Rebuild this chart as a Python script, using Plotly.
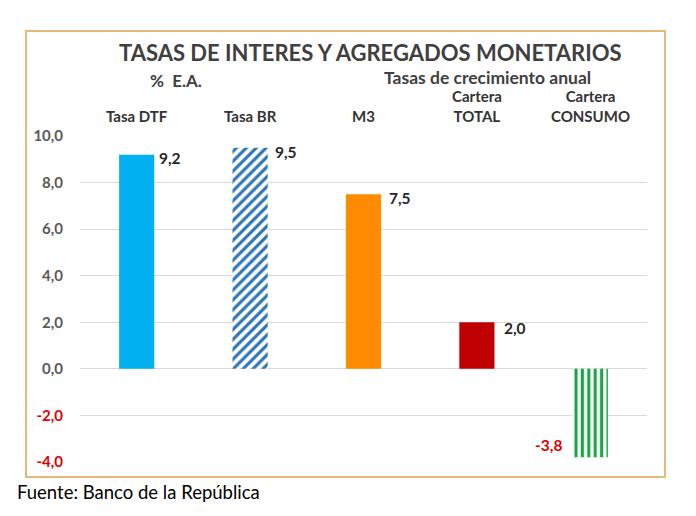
import plotly.graph_objects as go

categories = ["Tasa DTF", "Tasa BR", "M3", "Cartera<br>TOTAL", "Cartera<br>CONSUMO"]
values = [9.2, 9.5, 7.5, 2.0, -3.8]
value_labels = ["9,2", "9,5", "7,5", "2,0", "-3,8"]
tick_vals = [-4, -2, 0, 2, 4, 6, 8, 10]
tick_labels = ["-4,0", "-2,0", "0,0", "2,0", "4,0", "6,0", "8,0", "10,0"]

bar_colors = ["#00B0F0", "#2E75B6", "#FF8C00", "#C00000", "#1FA24A"]
pattern_shapes = ["", "/", "", "", "|"]

# page offset (browser body margin)
OFF = 8
W, H = 696 - OFF, 516 - OFF
# target pixel positions in the screenshot
PL, PR, PT, PB = 80, 647, 136, 462
L, T = PL - OFF, PT - OFF
R = W - (PR - OFF)
B = H - (PB - OFF)
PW, PH = W - L - R, H - T - B

def px(x):
    return (x - OFF - L) / PW

def py(y):
    return (H - B - (y - OFF)) / PH

FONT = "Lato"

fig = go.Figure()
for c, v, col, shp in zip(categories, values, bar_colors, pattern_shapes):
    if shp:
        marker = dict(color="#FFFFFF", line=dict(width=0),
                      pattern=dict(shape=shp, fgcolor=col, bgcolor="#FFFFFF",
                                   size=7 if shp == "/" else 6.4,
                                   solidity=0.45 if shp == "/" else 0.5,
                                   fillmode="replace"))
    else:
        marker = dict(color=col, line=dict(width=0))
    fig.add_trace(go.Bar(x=[c], y=[v], width=0.31, marker=marker, hoverinfo="skip"))

ticktext = []
for v, t in zip(tick_vals, tick_labels):
    if v < 0:
        ticktext.append(f"<span style='color:#E00000'><b>{t}</b></span>")
    else:
        ticktext.append(f"<b>{t}</b>")

fig.update_layout(
    width=W, height=H,
    margin=dict(l=L, r=R, t=T, b=B),
    paper_bgcolor="white", plot_bgcolor="white",
    showlegend=False, barmode="overlay",
    font=dict(family=FONT, color="#262626"),
    xaxis=dict(showticklabels=False, showgrid=False, zeroline=False, showline=False,
               range=[-0.5, 4.5], categoryorder="array", categoryarray=categories),
    yaxis=dict(range=[-4, 10], tickvals=tick_vals, ticktext=ticktext,
               tickfont=dict(size=15, color="#595959", family=FONT),
               showgrid=True, gridcolor="#D9D9D9", gridwidth=1, zeroline=False,
               showline=False, ticks="", ticklabelstandoff=16),
)

# frame
fig.add_shape(type="rect", xref="paper", yref="paper",
              x0=px(26), x1=px(665), y0=py(477), y1=py(31),
              line=dict(color="#E9B97A", width=2), fillcolor="rgba(0,0,0,0)", layer="below")

# title and subtitles
fig.add_annotation(xref="paper", yref="paper", x=px(370), y=py(53), text="<b>TASAS DE INTERES Y AGREGADOS MONETARIOS</b>",
                   showarrow=False, font=dict(size=22, color="#404040", family=FONT), xanchor="center", yanchor="middle")
fig.add_annotation(xref="paper", yref="paper", x=px(176), y=py(80), text="<b>%  E.A.</b>",
                   showarrow=False, font=dict(size=17, color="#404040", family=FONT), xanchor="center", yanchor="middle")
fig.add_annotation(xref="paper", yref="paper", x=px(487), y=py(78), text="<b>Tasas de crecimiento anual</b>",
                   showarrow=False, font=dict(size=17.5, color="#404040", family=FONT), xanchor="center", yanchor="middle")

# category labels on top
for c in categories:
    fig.add_annotation(x=c, xref="x", yref="paper", y=py(127), text=f"<b>{c}</b>",
                       showarrow=False, font=dict(size=15, color="#333333", family=FONT),
                       xanchor="center", yanchor="bottom")

# value labels
label_shift = [(20, -3), (23, -4), (23, -4), (25, -6), (-26, 12)]
for c, v, t, (dx, dy) in zip(categories, values, value_labels, label_shift):
    color = "#E00000" if v < 0 else "#262626"
    fig.add_annotation(x=c, y=v, text=f"<b>{t}</b>", showarrow=False,
                       xshift=dx, yshift=dy, xanchor="left" if dx > 0 else "right",
                       yanchor="middle", font=dict(size=15.5, color=color, family=FONT))

fig.add_annotation(xref="paper", yref="paper", x=px(15), y=py(492), text="Fuente: Banco de la República",
                   showarrow=False, font=dict(size=18.5, color="#000000", family=FONT),
                   xanchor="left", yanchor="middle")

fig.write_html("out.html")
